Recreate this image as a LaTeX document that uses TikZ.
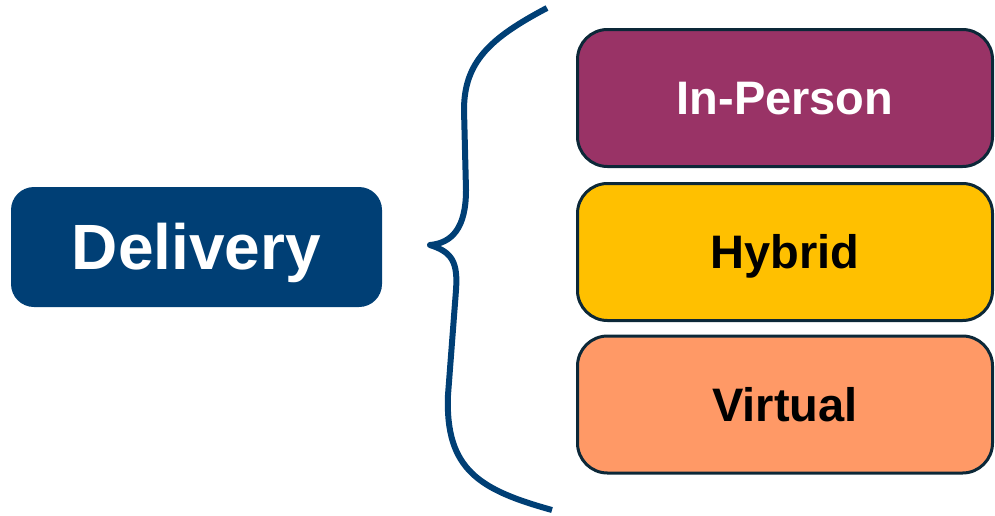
\documentclass[tikz,border=0pt]{standalone}
\usepackage{fontspec}
\setmainfont{Liberation Sans}
\definecolor{delblue}{RGB}{0,63,117}
\definecolor{edgedark}{RGB}{12,40,56}
\definecolor{inperson}{RGB}{153,51,102}
\definecolor{hybrid}{RGB}{255,192,0}
\definecolor{virtual}{RGB}{255,153,102}
\begin{document}
\begin{tikzpicture}[x=1pt,y=-1pt,
  mainbox/.style={fill=delblue, rounded corners=23pt, minimum width=371pt, minimum height=120pt,
    font=\fontsize{64}{70}\selectfont\bfseries, text=white, inner sep=0pt,
    text height=45.8pt, text depth=0pt},
  optbox/.style={draw=edgedark, line width=3pt, rounded corners=30pt, minimum width=415pt, minimum height=137pt,
    font=\fontsize{47}{52}\selectfont\bfseries, inner sep=0pt,
    text height=33.7pt, text depth=0pt},
  bracestyle/.style={draw=delblue, line width=6pt, line cap=butt, line join=round}]
\useasboundingbox (0,0) rectangle (995,515);
\node[mainbox] (delivery) at (196.5,247) {Delivery};
\node[optbox, fill=inperson, text=white] (inperson) at (785,98) {In-Person};
\node[optbox, fill=hybrid, text=black] (hybrid) at (785,252) {Hybrid};
\node[optbox, fill=virtual, text=black] (virtual) at (785,404.5) {Virtual};
\path[bracestyle] (547,8) .. controls (490,38) and (464,62) .. (464,110)
  -- (466,190) .. controls (466,228) and (452,243) .. (430,245)
  .. controls (452,252) and (458,262) .. (456,290)
  -- (448,395) .. controls (445,470) and (480,490) .. (552,510);
\end{tikzpicture}
\end{document}
